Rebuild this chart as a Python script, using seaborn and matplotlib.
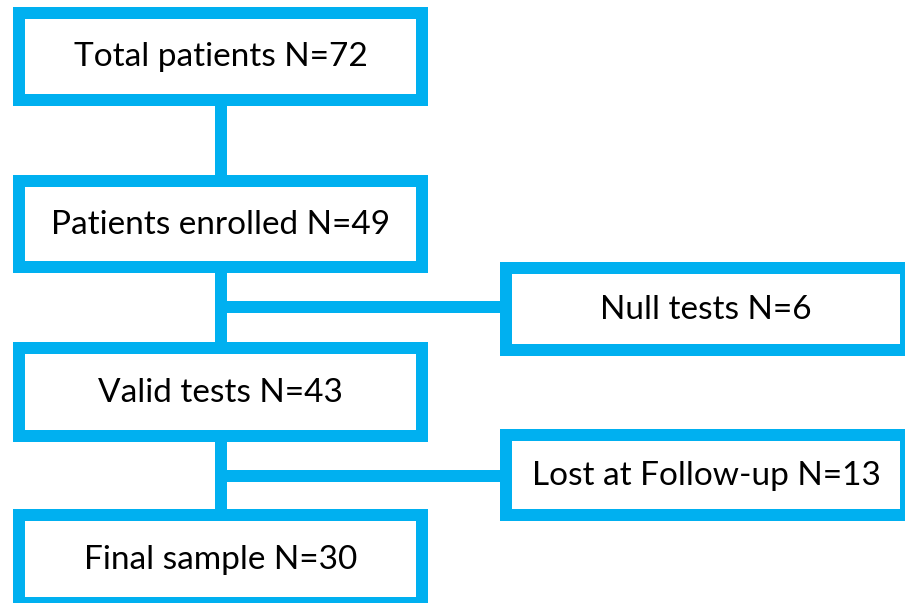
import matplotlib
matplotlib.use("Agg")

import matplotlib.pyplot as plt
from matplotlib.patches import Rectangle
import seaborn as sns

# ---------------------------------------------------------------------------
# Dados
# ---------------------------------------------------------------------------
labels = ["Total patients", "Patients enrolled", "Null tests",
          "Valid tests", "Lost at Follow-up", "Final sample"]
counts = [72, 49, 6, 43, 13, 30]

# layout em pixels (borda externa): x0, y0, x1, y1
box_x0 = [13, 13, 500, 13, 500, 13]
box_y0 = [7, 175, 262, 342, 429, 509]
box_x1 = [428, 428, 912, 428, 912, 428]
box_y1 = [106, 273, 356, 442, 521, 609]

# conectores (x0, y0, x1, y1)
links = [
    (221, 106, 221, 175),
    (221, 273, 221, 342),
    (221, 307, 500, 307),
    (221, 442, 221, 509),
    (221, 476, 500, 476),
]

BLUE = "#00B0F0"
BORDER = 12  # px

sns.set_theme(style="white")
plt.rcParams["font.family"] = ["Lato", "DejaVu Sans"]

W, H, DPI = 905, 603, 100
fig = plt.figure(figsize=(W / DPI, H / DPI), dpi=DPI)
ax = fig.add_axes([0, 0, 1, 1])
ax.set_xlim(0, W)
ax.set_ylim(H, 0)
ax.axis("off")

lw = BORDER * 72 / DPI

for x0, y0, x1, y1 in links:
    ax.plot([x0, x1], [y0, y1], color=BLUE, linewidth=lw, solid_capstyle="butt", zorder=1)

for lab, n, x0, y0, x1, y1 in zip(labels, counts, box_x0, box_y0, box_x1, box_y1):
    h = BORDER / 2
    ax.add_patch(Rectangle((x0 + h, y0 + h), x1 - x0 - BORDER, y1 - y0 - BORDER,
                           facecolor="white", edgecolor=BLUE, linewidth=lw,
                           joinstyle="miter", zorder=2))
    cx = (x0 + x1) / 2
    cy = (y0 + y1) / 2 if y1 <= H else (y0 + BORDER + 597) / 2
    ax.text(cx, cy + 1, f"{lab} N={n}", ha="center", va="center",
            fontsize=24, color="black", zorder=3)

fig.savefig("out.png", dpi=DPI)
